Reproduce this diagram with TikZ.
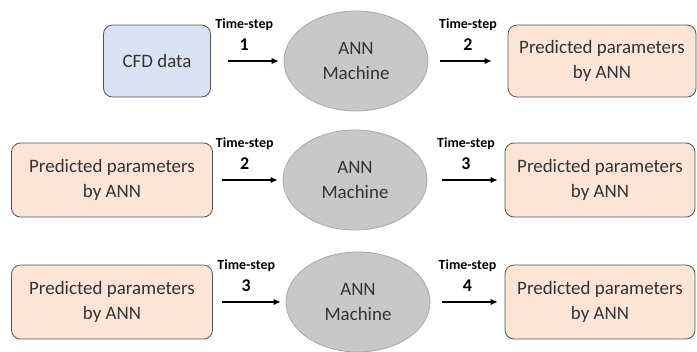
\documentclass[tikz,border=0pt]{standalone}
\usepackage{fontspec}
\setmainfont{Carlito}
\usetikzlibrary{positioning,shapes,arrows.meta}

\definecolor{boxline}{HTML}{555555}
\definecolor{cfdfill}{HTML}{DAE3F3}
\definecolor{predfill}{HTML}{FBE5D6}
\definecolor{annfill}{HTML}{C8C8C8}
\definecolor{annline}{HTML}{A8A8A8}
\definecolor{txt}{HTML}{333333}

\tikzset{
	databox/.style={draw=boxline, thick, rounded corners=9bp,
		text=txt, align=center, font=\fontsize{19}{25}\selectfont},
	cfdbox/.style={databox, fill=cfdfill, minimum width=107bp, minimum height=72bp},
	predbox/.style={databox, fill=predfill, minimum width=201bp, minimum height=74bp},
	annbox/.style={ellipse, draw=annline, fill=annfill, thick,
		minimum width=144bp, minimum height=100bp, inner sep=0pt,
		text=txt, align=center, font=\fontsize{19}{26}\selectfont},
	flow/.style={draw=black, line width=1.2pt, -{Latex[length=7bp,width=6.5bp]}},
	steplabel/.style={midway, above, align=center, inner sep=0pt, yshift=10bp},
}

\newcommand\tstep[1]{{\fontsize{14}{16}\selectfont\bfseries Time-step}\\[7bp]{\fontsize{18}{18}\selectfont\bfseries #1}}

\begin{document}
\begin{tikzpicture}[x=1bp, y=-1bp]

\useasboundingbox (0,0) rectangle (697,351);

% Row 1
\node [cfdbox] (cfd) at (157, 61) {CFD data};
\node [annbox] (ann_1) at (356, 61) {ANN\\Machine};
\node [predbox, minimum width=188bp, minimum height=72bp] (pred_1) at (602, 61) {Predicted parameters\\by ANN};

% Row 2
\node [predbox] (pred_2_in) at (112, 180) {Predicted parameters\\by ANN};
\node [annbox] (ann_2) at (355, 180) {ANN\\Machine};
\node [predbox, minimum width=190bp] (pred_2_out) at (600, 180) {Predicted parameters\\by ANN};

% Row 3
\node [predbox] (pred_3_in) at (112, 302) {Predicted parameters\\by ANN};
\node [annbox] (ann_3) at (358, 302) {ANN\\Machine};
\node [predbox, minimum width=190bp] (pred_3_out) at (600, 302) {Predicted parameters\\by ANN};

% Arrows with time-step labels
\draw[flow, shorten <=17bp, shorten >=5bp] (cfd) -- (ann_1) node[steplabel, xshift=-3bp] {\tstep{1}};
\draw[flow, shorten <=12bp, shorten >=16bp] (ann_1) -- (pred_1) node[steplabel] {\tstep{2}};

\draw[flow, shorten <=9bp, shorten >=5bp] (pred_2_in) -- (ann_2) node[steplabel, xshift=-3bp] {\tstep{2}};
\draw[flow, shorten <=15bp, shorten >=7bp] (ann_2) -- (pred_2_out) node[steplabel] {\tstep{3}};

\draw[flow, shorten <=9bp, shorten >=5bp] (pred_3_in) -- (ann_3) node[steplabel, xshift=-3bp] {\tstep{3}};
\draw[flow, shorten <=12bp, shorten >=7bp] (ann_3) -- (pred_3_out) node[steplabel] {\tstep{4}};

\end{tikzpicture}
\end{document}
